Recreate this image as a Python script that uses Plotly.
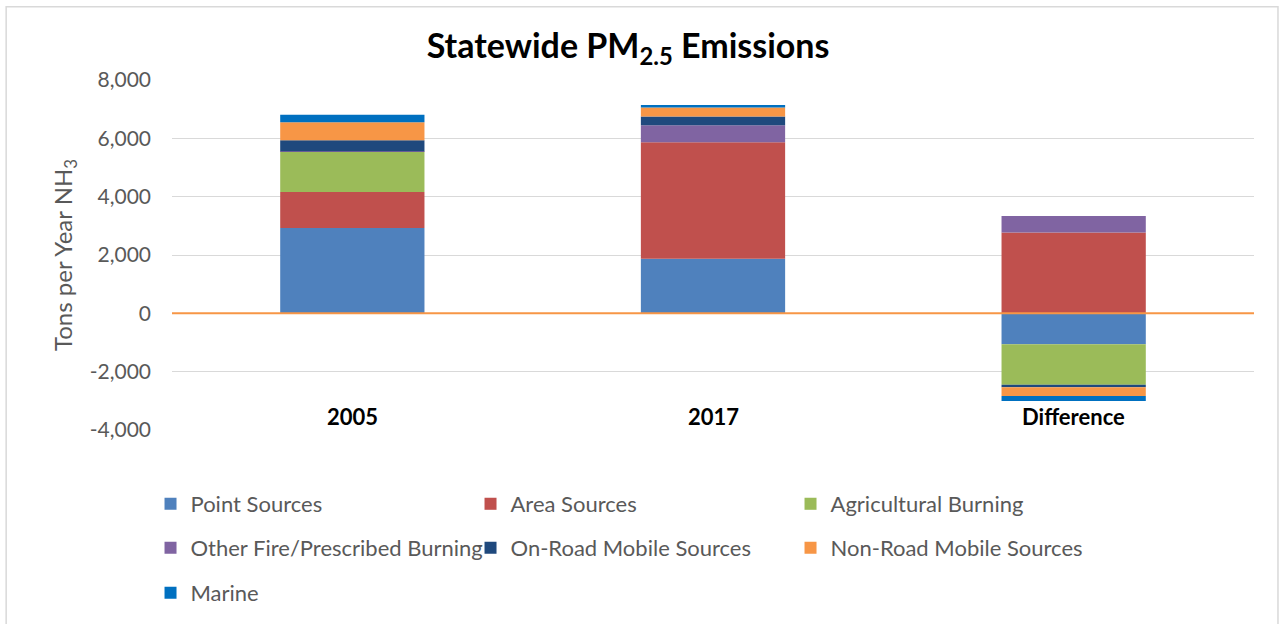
import plotly.graph_objects as go

categories = ["2005", "2017", "Difference"]
point_sources = [2930, 1870, -1060]
area_sources = [1230, 4000, 2770]
agricultural_burning = [1390, 0, -1390]
other_fire = [10, 580, 570]
on_road = [375, 295, -80]
non_road = [615, 310, -305]
marine = [260, 90, -170]

series = [
    ("Point Sources", point_sources, "#4F81BD", "legend"),
    ("Area Sources", area_sources, "#C0504D", "legend"),
    ("Agricultural Burning", agricultural_burning, "#9BBB59", "legend"),
    ("Other Fire/Prescribed Burning", other_fire, "#8064A2", "legend2"),
    ("On-Road Mobile Sources", on_road, "#1F497D", "legend2"),
    ("Non-Road Mobile Sources", non_road, "#F79646", "legend2"),
    ("Marine", marine, "#0070C0", "legend3"),
]

y_ticks = [-4000, -2000, 0, 2000, 4000, 6000, 8000]
y_tick_text = [f"{v:,}" for v in y_ticks]

FONT = "Lato"
GREY = "#595959"

fig = go.Figure()
for name, vals, color, lg in series:
    fig.add_trace(go.Bar(
        x=categories, y=vals, name=name, legend=lg,
        marker=dict(color=color, line=dict(width=0)),
        hovertemplate="%{x}: %{y:,}<extra>" + name + "</extra>",
    ))

# plot area geometry (page pixels): 171.5..1254.5 px, 80..431 px
PL, PR, PT, PB = 171.5, 1254.5, 80, 431
PW, PH = PR - PL, PB - PT

def px_x(x):
    return (x - PL) / PW

def px_y(y):
    return (PB - y) / PH

legend_common = dict(
    orientation="h", xanchor="left", yanchor="middle",
    x=px_x(150), entrywidth=275, entrywidthmode="pixels",
    font=dict(family=FONT, size=22, color=GREY),
    bgcolor="rgba(0,0,0,0)", traceorder="normal",
)

annotations = []
for i, c in enumerate(categories):
    annotations.append(dict(
        x=i, xref="x", y=px_y(417), yref="paper", text="<b>" + c + "</b>",
        showarrow=False, font=dict(family=FONT, size=22, color="#000000"),
        yanchor="middle",
    ))

fig.update_layout(
    width=1280, height=624,
    margin=dict(l=PL, r=1280 - PR, t=PT, b=624 - PB),
    paper_bgcolor="white", plot_bgcolor="white",
    barmode="relative", bargap=0.6,
    title=dict(
        text="<b>Statewide PM<sub>2.5</sub> Emissions</b>",
        x=px_x(628), xref="paper", xanchor="center",
        y=1 - 46 / 624, yanchor="middle",
        font=dict(family=FONT, size=34, color="#000000"),
    ),
    xaxis=dict(type="category", categoryorder="array", categoryarray=categories,
               range=[-0.5, len(categories) - 0.5], autorange=False,
               showticklabels=False, showgrid=False,
               zeroline=False, showline=False, ticks=""),
    yaxis=dict(
        range=[-4000, 8000], tickvals=y_ticks, ticktext=y_tick_text,
        showgrid=True, gridcolor="#D9D9D9", gridwidth=1,
        zeroline=False,
        showline=False, ticks="", ticklabelstandoff=20,
        tickfont=dict(family=FONT, size=21, color=GREY),
        title=dict(text="Tons per Year NH<sub>3</sub>", standoff=10,
                   font=dict(family=FONT, size=24, color=GREY)),
    ),
    legend=dict(legend_common, y=px_y(504)),
    legend2=dict(legend_common, y=px_y(548)),
    legend3=dict(legend_common, y=px_y(593)),
    annotations=annotations,
    shapes=[
        dict(type="rect", xref="paper", yref="paper",
             x0=px_x(5.5), x1=px_x(1278.5), y0=px_y(640), y1=px_y(6.5),
             line=dict(color="#D9D9D9", width=1.5), layer="below"),
        dict(type="line", xref="paper", yref="y", x0=0, x1=1, y0=0, y1=0,
             line=dict(color="#F79646", width=2), layer="above"),
    ],
    showlegend=True,
)

fig.write_html("out.html", config={"displayModeBar": False},
               post_script="document.body.style.margin='0px';")
